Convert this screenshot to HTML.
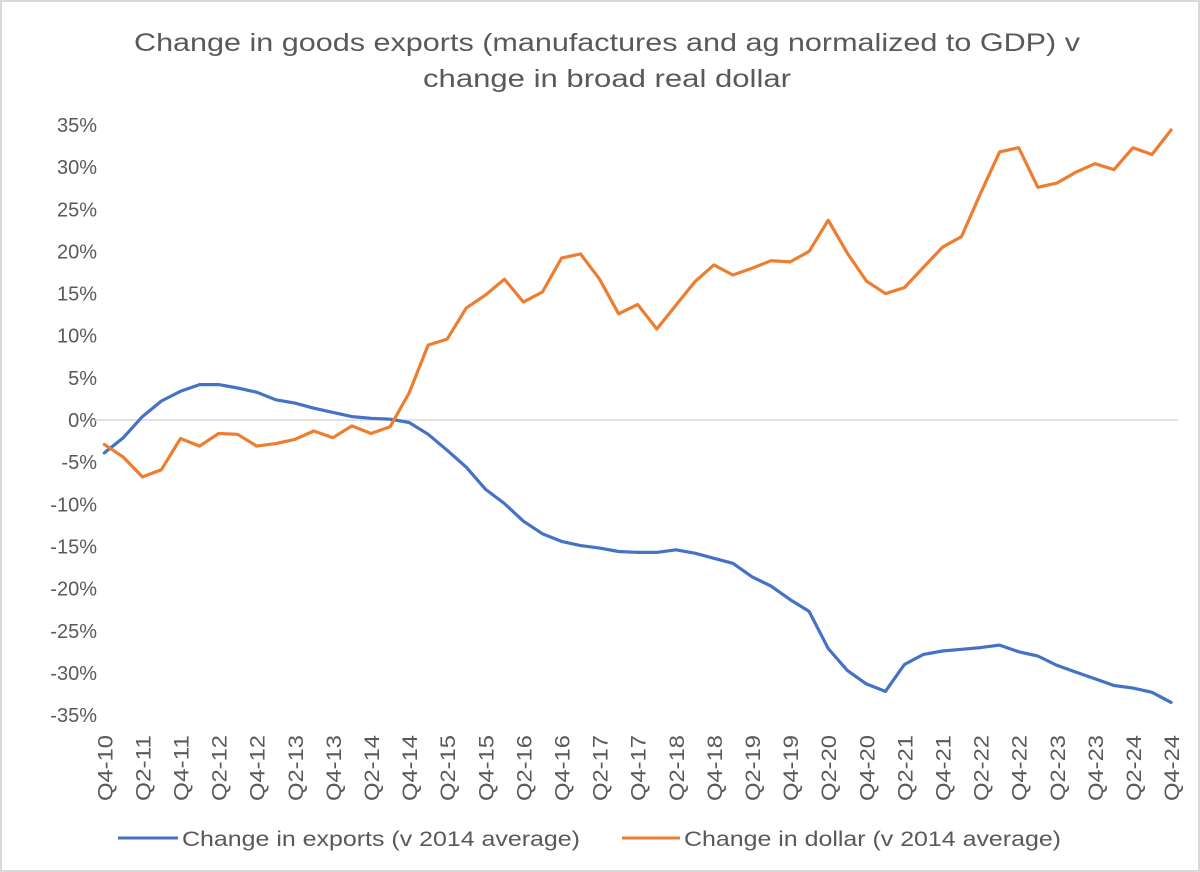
<!DOCTYPE html>
<html><head><meta charset="utf-8"><style>
html,body{margin:0;padding:0;background:#fff}
svg{display:block;font-family:"Liberation Sans",sans-serif}
</style></head><body>
<svg id="chart" width="1200" height="872" viewBox="0 0 1200 872">
<rect x="1" y="1" width="1198" height="870" fill="#fff" stroke="#d9d9d9" stroke-width="2"/>
<text x="607" y="51" text-anchor="middle" font-size="25" fill="#595959" textLength="946" lengthAdjust="spacingAndGlyphs">Change in goods exports (manufactures and ag normalized to GDP) v</text>
<text x="607" y="87" text-anchor="middle" font-size="25" fill="#595959" textLength="368" lengthAdjust="spacingAndGlyphs">change in broad real dollar</text>
<g id="yaxis"></g>
<g id="xaxis"></g>
<g id="series"></g>
<g>
<line x1="118" y1="838" x2="178" y2="838" stroke="#4472C4" stroke-width="3"/>
<text x="182" y="846" font-size="21" fill="#595959" textLength="398" lengthAdjust="spacingAndGlyphs">Change in exports (v 2014 average)</text>
<line x1="622" y1="838" x2="680" y2="838" stroke="#ED7D31" stroke-width="3"/>
<text x="684" y="846" font-size="21" fill="#595959" textLength="377" lengthAdjust="spacingAndGlyphs">Change in dollar (v 2014 average)</text>
</g>
</svg>
<script>
const quarters = [];
const yTicks = [35,30,25,20,15,10,5,0,-5,-10,-15,-20,-25,-30,-35];
const exportsVals = [-3.9,-2.1,0.4,2.25,3.4,4.2,4.2,3.8,3.3,2.4,2.0,1.4,0.9,0.4,0.2,0.1,-0.3,-1.7,-3.6,-5.6,-8.2,-9.9,-12.0,-13.5,-14.4,-14.9,-15.2,-15.6,-15.7,-15.7,-15.4,-15.8,-16.4,-17.0,-18.6,-19.7,-21.3,-22.7,-27.1,-29.7,-31.3,-32.2,-29.0,-27.8,-27.4,-27.2,-27.0,-26.7,-27.5,-28.0,-29.1,-29.9,-30.7,-31.5,-31.8,-32.3,-33.5];
const dollarVals = [-2.9,-4.4,-6.75,-5.9,-2.2,-3.1,-1.6,-1.7,-3.1,-2.8,-2.3,-1.3,-2.1,-0.7,-1.6,-0.8,3.2,8.9,9.6,13.3,14.8,16.7,14.0,15.2,19.2,19.7,16.7,12.6,13.7,10.8,13.6,16.4,18.4,17.2,18.0,18.9,18.75,20.0,23.7,19.8,16.5,15.0,15.7,18.1,20.5,21.75,26.9,31.8,32.3,27.6,28.1,29.4,30.4,29.7,32.3,31.5,34.4];
(function(){let q=4,y=10;for(let i=0;i<57;i++){quarters.push('Q'+q+'-'+y);q++;if(q>4){q=1;y++;}}})();
const NS='http://www.w3.org/2000/svg';
const x0=104.3, dx=19.05, yZero=420, pxPer=8.43;
const xs=i=>x0+i*dx;
const ys=v=>yZero-v*pxPer;
function mk(t,a,p){const e=document.createElementNS(NS,t);for(const k in a)e.setAttribute(k,a[k]);p.appendChild(e);return e;}
const ya=document.getElementById('yaxis');
yTicks.forEach(v=>{
  const t=mk('text',{x:97,y:ys(v)+7,'text-anchor':'end','font-size':20,fill:'#595959'},ya);
  
  
  t.textContent=v+'%';
});
const zl=mk('line',{x1:95,x2:1178,y1:ys(0),y2:ys(0),stroke:'#d9d9d9','stroke-width':1.5},ya);


const xa=document.getElementById('xaxis');
quarters.forEach((q,i)=>{
  if(i%2)return;
  const cx=xs(i)+8;
  const t=mk('text',{x:0,y:0,'text-anchor':'end','font-size':21,fill:'#595959',textLength:66,lengthAdjust:'spacingAndGlyphs',transform:'translate('+cx+',735) rotate(-90)'},xa);
  
  
  t.textContent=q;
});
const sg=document.getElementById('series');
function line(vals,color,name){
  const d=vals.map((v,i)=>(i?'L':'M')+xs(i).toFixed(1)+' '+ys(v).toFixed(1)).join(' ');
  const p=mk('path',{d:d,fill:'none',stroke:color,'stroke-width':3.2,'stroke-linejoin':'round','stroke-linecap':'round'},sg);
  
  
}
line(exportsVals,'#4472C4','exports-line');
line(dollarVals,'#ED7D31','dollar-line');
</script>
</body></html>
